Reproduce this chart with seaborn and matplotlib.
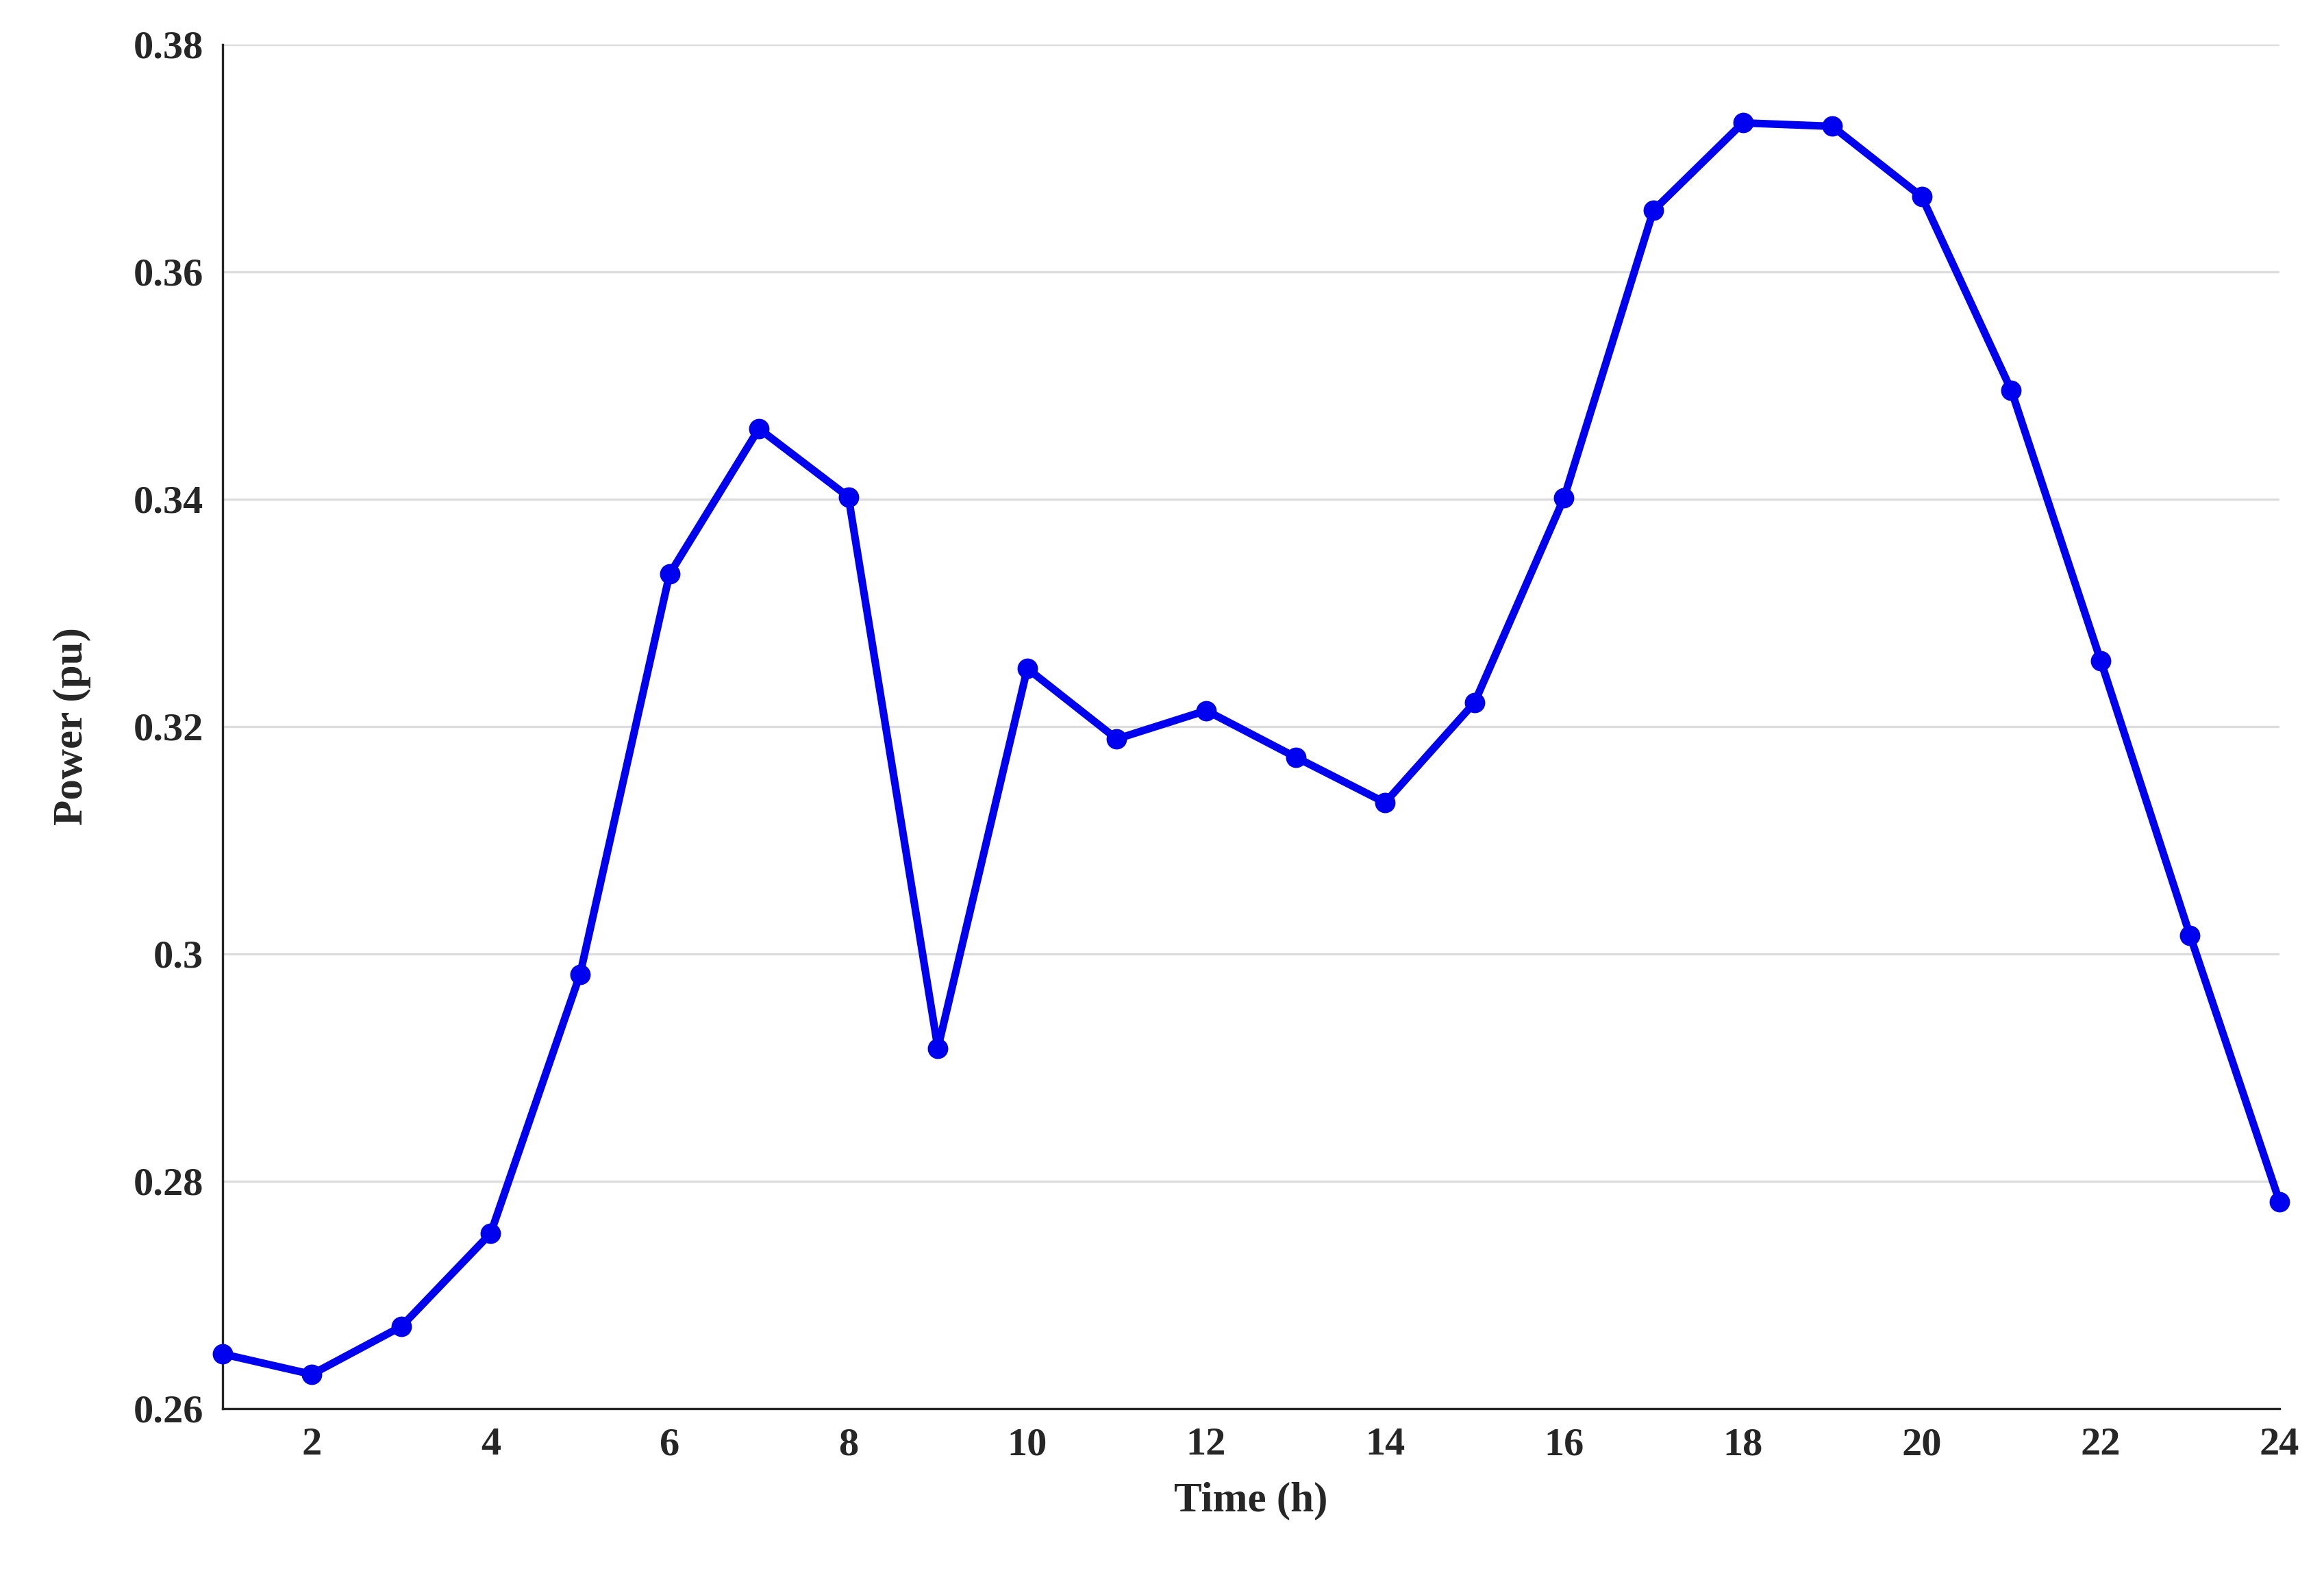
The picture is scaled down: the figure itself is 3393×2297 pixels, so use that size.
import numpy as np
import pandas as pd
import matplotlib
matplotlib.use("Agg")
import matplotlib.pyplot as plt
import seaborn as sns
from matplotlib.ticker import FuncFormatter

hours = list(range(1, 25))
power = [0.2648, 0.2630, 0.2672, 0.2754, 0.2982, 0.3334, 0.3462, 0.3402,
         0.2917, 0.3251, 0.3189, 0.3214, 0.3173, 0.3133, 0.3221, 0.3401,
         0.3654, 0.3731, 0.3728, 0.3666, 0.3496, 0.3258, 0.3016, 0.2782]

sns.set_style("white")
plt.rcParams['font.family'] = ['Liberation Serif', 'DejaVu Serif']
plt.rcParams['font.weight'] = 'bold'

df = pd.DataFrame({"Time": hours, "Power": power})

W, H = 1568, 1061
fig = plt.figure(figsize=(16.965, 11.485), dpi=200)
ax = fig.add_axes([150 / W, 1 - 950 / H, (1538 - 150) / W, (950 - 30) / H])
sns.lineplot(data=df, x="Time", y="Power", ax=ax, color="#0000F0", linewidth=4,
             marker="o", markersize=10, markeredgecolor="#0000F0", zorder=3,
             clip_on=False)

ax.set_xlim(1, 24)
ax.set_ylim(0.26, 0.38)
ax.set_xticks(range(2, 25, 2))
ax.set_yticks(np.arange(0.26, 0.381, 0.02))
ax.yaxis.set_major_formatter(FuncFormatter(lambda v, p: "0.3" if abs(v - 0.3) < 1e-9 else f"{v:.2f}"))
ax.grid(axis="y", color="#dcdcdc", linewidth=1.2)
for s in ["top", "right"]:
    ax.spines[s].set_visible(False)
for s in ["left", "bottom"]:
    ax.spines[s].set_color("#262626")
    ax.spines[s].set_linewidth(1.2)
ax.tick_params(direction="in", length=7, width=1.2, labelsize=21, colors="#262626", pad=10)
for lab in ax.get_xticklabels() + ax.get_yticklabels():
    lab.set_fontweight("bold")
ax.set_xlabel("Time (h)", fontsize=22, fontweight="bold", color="#262626", labelpad=10)
ax.set_ylabel("Power (pu)", fontsize=22, fontweight="bold", color="#262626", labelpad=22)

fig.savefig("out.png", dpi=200)
